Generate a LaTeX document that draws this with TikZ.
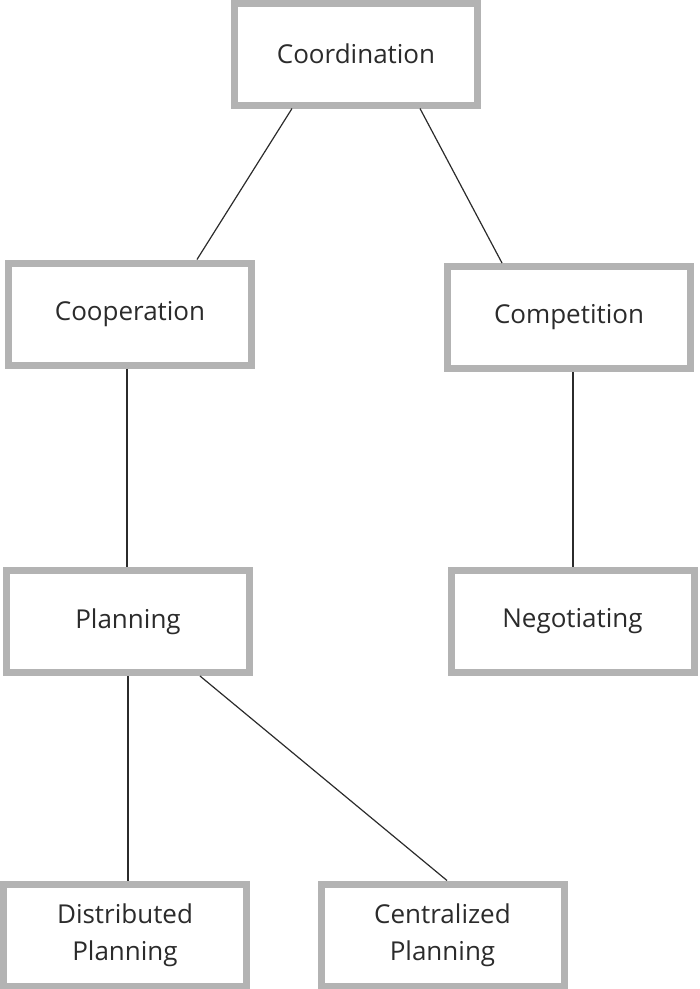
\documentclass[tikz,border=0pt]{standalone}
\usepackage{fontspec}
\setmainfont{Open Sans}
\usepackage{xcolor}
\usepackage{tikz}
\definecolor{boxgray}{HTML}{B3B3B3}
\definecolor{txtgray}{HTML}{2B2B2B}
\tikzset{
  box/.style={draw=boxgray,line width=7pt,fill=white,inner sep=0pt,align=center,
    minimum width=243pt,minimum height=102pt,text=txtgray,font=\fontsize{26}{37}\selectfont},
  link/.style={draw=txtgray,line width=1.2pt}
}
\begin{document}
\begin{tikzpicture}[x=1pt,y=-1pt]
  \useasboundingbox (0,0) rectangle (700,989);
  % Root
  \node (coord) [box] at (356,54) {Coordination};
  % Second level
  \node (coop) [box] at (130,314) {Cooperation};
  \node (comp) [box] at (569,317.5) {Competition};
  % Third level
  \node (plan) [box] at (128,621.5) {Planning};
  \node (nego) [box] at (572.5,621.5) {Negotiating};
  % Leaves
  \node (dist) [box] at (125,935) {Distributed\\Planning};
  \node (cent) [box] at (442.5,935) {Centralized\\Planning};
  % lines
  \draw[link] ([xshift=-64pt]coord.south) -- ([xshift=67pt]coop.north);
  \draw[link] ([xshift=64pt]coord.south) -- ([xshift=-67pt]comp.north);
  \draw[link] ([xshift=-3pt]coop.south) -- ([xshift=-1pt]plan.north);
  \draw[link] ([xshift=4pt]comp.south) -- ([xshift=0.5pt]nego.north);
  \draw[link] (plan.south) -- ([xshift=3pt]dist.north);
  \draw[link] ([xshift=72pt]plan.south) -- ([xshift=4.5pt]cent.north);
\end{tikzpicture}
\end{document}
